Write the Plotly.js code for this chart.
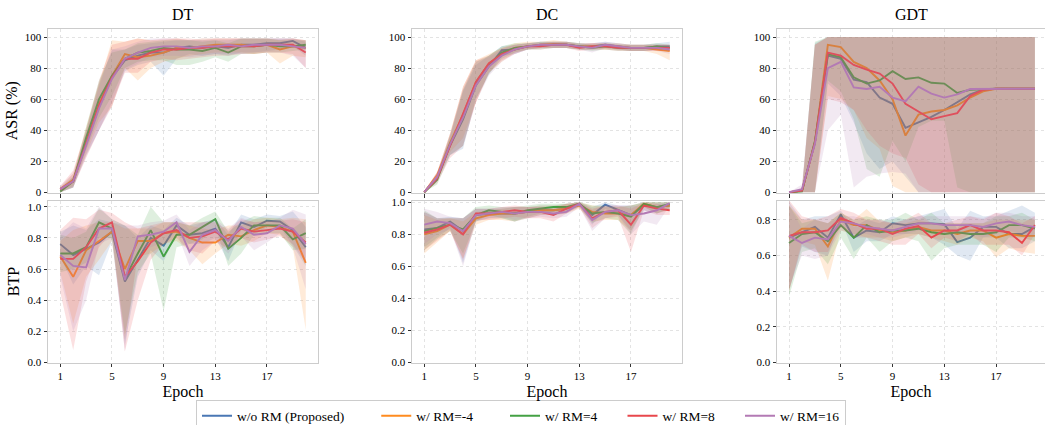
<!DOCTYPE html>
<html><head><meta charset="utf-8">
<script src="https://cdn.plot.ly/plotly-3.0.1.min.js"></script>
<style>html,body{margin:0;padding:0;background:#fff}#chart{width:1045px;height:425px}</style>
</head><body><div id="chart"></div>
<script>
// ---------------- data ----------------
const epochs = [1,2,3,4,5,6,7,8,9,10,11,12,13,14,15,16,17,18,19,20];
const seriesNames = ['w/o RM (Proposed)', 'w/ RM=-4', 'w/ RM=4', 'w/ RM=8', 'w/ RM=16'];
const xTickVals = [1, 5, 9, 13, 17];
const panelTitles = ['DT', 'DC', 'GDT'];
const rowTitles = ['ASR (%)', 'BTP'];

// DT - ASR (mean, min, max per series)
const dtAsrMean = [
  [2, 7, 32, 55, 74, 85, 88, 90, 90, 93, 94, 93, 94, 93, 95, 95, 96, 96, 97.5, 93],
  [2, 8, 33, 57, 75, 89, 87, 88, 90, 93, 93, 94, 95, 95, 95, 94, 95, 92, 94, 93],
  [0.5, 7, 35, 60, 75, 86, 90, 91, 93, 92, 92, 91, 93, 90, 94, 94, 95, 94, 94, 95],
  [2, 7, 31, 56, 74, 86, 86, 90, 92, 92, 93, 93, 94, 94, 94, 94, 95, 95, 95, 90],
  [2, 7, 30, 54, 73, 86, 90, 93, 94, 94, 93, 94, 94, 95, 94, 95, 95, 95, 94, 93]
];
const dtAsrLo = [
  [0, 3, 24, 40, 58, 78, 82, 84, 75, 86, 89, 88, 89, 88, 90, 90, 91, 92, 94, 88],
  [0, 4, 25, 45, 55, 80, 72, 80, 84, 86, 88, 89, 90, 90, 90, 89, 90, 83, 88, 87],
  [0, 3, 27, 48, 62, 80, 84, 85, 85, 82, 82, 84, 87, 84, 89, 89, 90, 90, 91, 92],
  [0, 3, 22, 40, 56, 77, 77, 84, 86, 85, 86, 87, 88, 88, 89, 89, 90, 90, 89, 80],
  [0, 3, 23, 40, 55, 79, 83, 87, 88, 88, 87, 88, 89, 89, 89, 90, 90, 90, 88, 80]
];
const dtAsrHi = [
  [3, 10, 40, 70, 92, 92, 95, 96, 97, 98, 98, 98, 98, 98, 99, 99, 99, 99, 99, 97],
  [3, 12, 42, 70, 98, 97, 99, 98, 98, 99, 98, 99, 99, 99, 99, 99, 99, 98, 99, 98],
  [2, 10, 42, 72, 90, 92, 96, 97, 98, 98, 98, 97, 98, 96, 99, 99, 99, 98, 98, 98],
  [4, 14, 40, 72, 95, 97, 99, 98, 99, 99, 99, 98, 99, 99, 99, 99, 99, 99, 99, 98],
  [4, 12, 38, 68, 92, 94, 97, 99, 99, 99, 98, 99, 99, 99, 99, 99, 99, 99, 99, 98]
];

// DT - BTP
const dtBtpMean = [
  [0.76, 0.69, 0.73, 0.77, 0.84, 0.52, 0.66, 0.80, 0.75, 0.88, 0.82, 0.83, 0.86, 0.74, 0.90, 0.87, 0.91, 0.905, 0.85, 0.74],
  [0.68, 0.55, 0.72, 0.78, 0.84, 0.60, 0.78, 0.78, 0.83, 0.84, 0.80, 0.77, 0.77, 0.82, 0.81, 0.85, 0.88, 0.87, 0.84, 0.64],
  [0.70, 0.70, 0.74, 0.90, 0.86, 0.54, 0.70, 0.85, 0.68, 0.82, 0.82, 0.87, 0.92, 0.73, 0.80, 0.88, 0.88, 0.88, 0.79, 0.83],
  [0.665, 0.665, 0.74, 0.86, 0.90, 0.55, 0.65, 0.77, 0.83, 0.85, 0.80, 0.81, 0.84, 0.79, 0.86, 0.84, 0.85, 0.86, 0.84, 0.77],
  [0.69, 0.62, 0.61, 0.86, 0.86, 0.53, 0.81, 0.82, 0.84, 0.90, 0.71, 0.82, 0.85, 0.78, 0.87, 0.82, 0.83, 0.88, 0.86, 0.76]
];
const dtBtpLo = [
  [0.68, 0.50, 0.62, 0.56, 0.78, 0.12, 0.55, 0.72, 0.65, 0.83, 0.76, 0.76, 0.80, 0.65, 0.85, 0.82, 0.87, 0.87, 0.75, 0.62],
  [0.58, 0.25, 0.55, 0.66, 0.78, 0.15, 0.68, 0.70, 0.76, 0.78, 0.72, 0.63, 0.70, 0.76, 0.75, 0.78, 0.83, 0.82, 0.74, 0.21],
  [0.58, 0.60, 0.64, 0.80, 0.80, 0.18, 0.58, 0.70, 0.33, 0.74, 0.76, 0.79, 0.87, 0.62, 0.70, 0.82, 0.83, 0.83, 0.72, 0.73],
  [0.45, 0.08, 0.52, 0.74, 0.84, 0.07, 0.40, 0.66, 0.76, 0.80, 0.72, 0.70, 0.78, 0.73, 0.80, 0.77, 0.79, 0.81, 0.76, 0.64],
  [0.55, 0.20, 0.40, 0.76, 0.80, 0.07, 0.72, 0.74, 0.77, 0.84, 0.62, 0.72, 0.78, 0.70, 0.81, 0.72, 0.77, 0.83, 0.74, 0.47]
];
const dtBtpHi = [
  [0.84, 0.88, 0.85, 0.92, 0.90, 0.88, 0.80, 0.88, 0.85, 0.93, 0.88, 0.90, 0.92, 0.82, 0.95, 0.92, 0.95, 0.94, 0.97, 0.87],
  [0.78, 0.85, 0.88, 0.90, 0.90, 0.86, 0.86, 0.86, 0.90, 0.90, 0.88, 0.86, 0.85, 0.88, 0.88, 0.92, 0.93, 0.92, 0.93, 0.92],
  [0.82, 0.80, 0.84, 0.99, 0.92, 0.88, 0.82, 1.00, 0.90, 0.90, 0.88, 0.93, 0.97, 0.84, 0.90, 0.94, 0.93, 0.93, 0.86, 0.92],
  [0.85, 0.93, 0.92, 0.98, 0.96, 0.90, 0.86, 0.88, 0.90, 0.90, 0.90, 0.90, 0.90, 0.85, 0.92, 0.90, 0.91, 0.91, 0.92, 0.90],
  [0.82, 0.90, 0.86, 1.00, 0.92, 0.88, 0.88, 0.90, 0.91, 0.95, 0.85, 0.90, 0.92, 0.86, 0.93, 0.90, 0.90, 0.93, 0.98, 0.95]
];

// DC - ASR
const dcAsrMean = [
  [0, 10, 30, 47, 69, 81, 91.5, 92, 94, 95, 95, 95, 94, 94, 95, 94, 93, 93, 94, 94],
  [0, 11, 32, 50, 71, 83, 89, 93, 94, 95, 95.5, 95, 94, 94, 94, 94, 93, 93, 92, 91],
  [0, 8, 31, 48, 70, 82, 90, 93, 94, 94.5, 95, 95, 94, 93, 94, 93, 93, 93, 94, 93],
  [0, 9, 30, 50, 71, 83, 89, 92, 94, 94, 95, 95, 93, 94, 94, 93, 93, 93, 93, 93],
  [0, 10, 31, 48, 69, 81, 88, 92, 94, 95, 95, 95, 94, 93, 95, 94, 93, 93, 93, 92]
];
const dcAsrLo = [
  [0, 8, 24, 28, 60, 76, 88, 89, 92, 93, 93, 93, 92, 92, 93, 92, 91, 91, 92, 92],
  [0, 8, 26, 35, 58, 77, 84, 90, 92, 93, 93, 93, 92, 92, 92, 92, 91, 91, 89, 85],
  [0, 5, 24, 30, 60, 76, 86, 90, 92, 92, 93, 93, 92, 91, 92, 91, 91, 91, 92, 91],
  [0, 6, 22, 30, 58, 77, 85, 89, 92, 92, 93, 93, 91, 92, 92, 91, 91, 91, 91, 91],
  [0, 7, 24, 30, 58, 75, 84, 89, 92, 93, 93, 93, 92, 90, 93, 92, 91, 91, 91, 89]
];
const dcAsrHi = [
  [0.5, 12, 36, 65, 82, 88, 94, 95, 96, 97, 97, 97, 96, 96, 97, 96, 95, 95, 96, 97],
  [0.5, 13, 38, 68, 85, 89, 93, 96, 97, 97, 98, 97, 96, 96, 96, 96, 95, 95, 95, 95],
  [0.5, 11, 37, 66, 84, 88, 94, 96, 96, 97, 97, 97, 96, 95, 96, 95, 95, 95, 96, 95],
  [0.5, 13, 38, 68, 85, 88, 93, 95, 96, 96, 97, 97, 95, 96, 96, 95, 95, 95, 95, 95],
  [0.5, 13, 37, 66, 84, 87, 92, 95, 96, 97, 97, 97, 96, 96, 97, 96, 95, 95, 95, 95]
];

// DC - BTP
const dcBtpMean = [
  [0.83, 0.84, 0.88, 0.82, 0.92, 0.93, 0.93, 0.93, 0.94, 0.95, 0.95, 0.96, 0.99, 0.92, 0.985, 0.95, 0.92, 0.98, 0.97, 0.98],
  [0.80, 0.82, 0.86, 0.80, 0.90, 0.92, 0.93, 0.93, 0.94, 0.95, 0.95, 0.96, 0.98, 0.94, 0.93, 0.93, 0.92, 0.99, 0.97, 0.98],
  [0.82, 0.84, 0.86, 0.83, 0.92, 0.95, 0.94, 0.93, 0.95, 0.96, 0.97, 0.97, 0.99, 0.93, 0.94, 0.93, 0.91, 0.99, 0.97, 0.99],
  [0.81, 0.83, 0.86, 0.80, 0.93, 0.93, 0.94, 0.95, 0.94, 0.94, 0.92, 0.96, 0.99, 0.90, 0.94, 0.95, 0.86, 0.98, 0.96, 0.95],
  [0.86, 0.88, 0.87, 0.82, 0.92, 0.93, 0.94, 0.93, 0.94, 0.94, 0.93, 0.94, 0.99, 0.89, 0.94, 0.95, 0.92, 0.93, 0.95, 0.995]
];
const dcBtpLo = [
  [0.72, 0.78, 0.84, 0.62, 0.88, 0.90, 0.90, 0.88, 0.90, 0.92, 0.92, 0.93, 0.98, 0.86, 0.96, 0.92, 0.82, 0.95, 0.93, 0.96],
  [0.68, 0.75, 0.82, 0.65, 0.86, 0.89, 0.89, 0.88, 0.90, 0.92, 0.92, 0.93, 0.96, 0.88, 0.89, 0.89, 0.82, 0.97, 0.93, 0.95],
  [0.70, 0.77, 0.82, 0.68, 0.88, 0.92, 0.90, 0.88, 0.91, 0.93, 0.94, 0.94, 0.97, 0.87, 0.90, 0.89, 0.80, 0.97, 0.93, 0.96],
  [0.70, 0.76, 0.82, 0.64, 0.89, 0.89, 0.90, 0.91, 0.90, 0.90, 0.88, 0.93, 0.97, 0.84, 0.90, 0.91, 0.69, 0.95, 0.92, 0.92],
  [0.74, 0.80, 0.83, 0.60, 0.88, 0.90, 0.91, 0.89, 0.90, 0.91, 0.90, 0.91, 0.97, 0.82, 0.90, 0.92, 0.80, 0.88, 0.86, 0.98]
];
const dcBtpHi = [
  [0.94, 0.90, 0.91, 0.90, 0.96, 0.96, 0.96, 0.97, 0.97, 0.98, 0.98, 0.99, 1.00, 0.97, 1.00, 0.98, 0.98, 1.00, 1.00, 1.00],
  [0.92, 0.89, 0.90, 0.88, 0.94, 0.95, 0.96, 0.97, 0.97, 0.98, 0.98, 0.99, 1.00, 0.98, 0.97, 0.97, 0.98, 1.00, 1.00, 1.00],
  [0.95, 0.90, 0.90, 0.90, 0.97, 0.98, 0.97, 0.97, 0.98, 0.99, 0.99, 0.99, 1.00, 0.98, 0.98, 0.97, 0.98, 1.00, 1.00, 1.00],
  [0.94, 0.90, 0.90, 0.90, 0.96, 0.96, 0.97, 0.98, 0.97, 0.97, 0.96, 0.99, 1.00, 0.96, 0.98, 0.98, 0.96, 1.00, 0.99, 0.98],
  [0.96, 0.94, 0.91, 0.90, 0.96, 0.96, 0.97, 0.97, 0.97, 0.97, 0.96, 0.97, 1.00, 0.95, 0.98, 0.98, 0.98, 0.97, 0.99, 1.00]
];

// GDT - ASR
const gdtAsrMean = [
  [0, 1, 32, 88, 86, 72.5, 71, 61, 57, 41.5, 45, 48.5, 53, 58, 63, 66, 66.7, 66.7, 66.7, 66.7],
  [0, 1, 32, 95, 93.5, 84, 80, 72, 60, 36.5, 50, 52, 53, 56, 61, 65, 66.7, 66.7, 66.7, 66.7],
  [0, 0.5, 33, 89, 87, 74, 70, 72, 78, 73, 74, 70.5, 70, 64, 66, 66.5, 66.7, 66.7, 66.7, 66.7],
  [0, 1, 32, 90, 88, 82, 79, 76.5, 70, 57, 52, 47, 49, 51, 62, 66, 66.7, 66.7, 66.7, 66.7],
  [0, 2, 31, 80, 84, 67.5, 66.5, 68, 61, 58.5, 68, 63.5, 61, 63, 66.5, 66.5, 66.7, 66.7, 66.7, 66.7]
];
const gdtAsrLo = [
  [0, 0, 0, 70, 62, 45, 25, 15, 20, 10, 0, 0, 0, 0, 0, 0, 0, 0, 0, 0],
  [0, 0, 0, 62, 60, 53, 35, 28, 4, 0, 0, 0, 0, 0, 0, 0, 0, 0, 0, 0],
  [0, 0, 0, 72, 65, 47, 15, 10, 33, 20, 42, 46, 46, 3, 0, 0, 0, 0, 0, 0],
  [0, 0, 0, 60, 58, 53, 40, 30, 25, 22, 5, 0, 0, 0, 0, 0, 0, 0, 0, 0],
  [0, 0, 0, 40, 50, 3, 10, 12, 13, 12, 0, 0, 0, 0, 0, 0, 0, 0, 0, 0]
];
const gdtAsrHi = [
  [0, 2, 96, 100, 100, 100, 100, 100, 100, 100, 100, 100, 100, 100, 100, 100, 100, 100, 100, 100],
  [0, 2, 95, 100, 100, 100, 100, 100, 100, 100, 100, 100, 100, 100, 100, 100, 100, 100, 100, 100],
  [0, 1, 97, 100, 100, 100, 100, 100, 100, 100, 100, 100, 100, 100, 100, 100, 100, 100, 100, 100],
  [0, 2, 95, 100, 100, 100, 100, 100, 100, 100, 100, 100, 100, 100, 100, 100, 100, 100, 100, 100],
  [0, 5, 95, 100, 100, 100, 100, 100, 100, 100, 100, 100, 100, 100, 100, 100, 100, 100, 100, 100]
];

// GDT - BTP
const gdtBtpMean = [
  [0.70, 0.73, 0.76, 0.70, 0.83, 0.70, 0.74, 0.73, 0.78, 0.77, 0.78, 0.78, 0.775, 0.675, 0.70, 0.76, 0.76, 0.72, 0.72, 0.76],
  [0.70, 0.75, 0.75, 0.65, 0.80, 0.77, 0.77, 0.74, 0.73, 0.74, 0.76, 0.74, 0.74, 0.72, 0.74, 0.74, 0.70, 0.72, 0.71, 0.71],
  [0.67, 0.72, 0.73, 0.68, 0.77, 0.70, 0.77, 0.73, 0.74, 0.74, 0.75, 0.73, 0.72, 0.73, 0.72, 0.72, 0.73, 0.77, 0.77, 0.75],
  [0.71, 0.73, 0.73, 0.74, 0.81, 0.78, 0.75, 0.75, 0.72, 0.75, 0.765, 0.70, 0.74, 0.74, 0.77, 0.74, 0.74, 0.73, 0.67, 0.77],
  [0.71, 0.67, 0.70, 0.69, 0.79, 0.78, 0.76, 0.75, 0.74, 0.76, 0.78, 0.78, 0.77, 0.77, 0.77, 0.76, 0.78, 0.79, 0.77, 0.76]
];
const gdtBtpLo = [
  [0.40, 0.65, 0.62, 0.60, 0.80, 0.62, 0.68, 0.68, 0.72, 0.72, 0.72, 0.70, 0.66, 0.60, 0.57, 0.70, 0.70, 0.64, 0.64, 0.68],
  [0.40, 0.68, 0.66, 0.46, 0.74, 0.72, 0.70, 0.70, 0.68, 0.70, 0.72, 0.70, 0.68, 0.66, 0.70, 0.68, 0.59, 0.64, 0.62, 0.61],
  [0.37, 0.62, 0.64, 0.55, 0.70, 0.58, 0.70, 0.62, 0.68, 0.70, 0.68, 0.57, 0.64, 0.66, 0.66, 0.66, 0.62, 0.70, 0.70, 0.68],
  [0.40, 0.66, 0.62, 0.62, 0.76, 0.70, 0.70, 0.68, 0.66, 0.66, 0.72, 0.64, 0.70, 0.68, 0.72, 0.66, 0.66, 0.66, 0.60, 0.72],
  [0.42, 0.60, 0.58, 0.60, 0.74, 0.72, 0.72, 0.70, 0.70, 0.72, 0.74, 0.74, 0.72, 0.72, 0.72, 0.70, 0.72, 0.74, 0.72, 0.70]
];
const gdtBtpHi = [
  [0.90, 0.80, 0.82, 0.82, 0.85, 0.76, 0.80, 0.78, 0.82, 0.80, 0.82, 0.84, 0.86, 0.75, 0.85, 0.82, 0.82, 0.85, 0.88, 0.84],
  [0.88, 0.80, 0.80, 0.78, 0.84, 0.80, 0.86, 0.79, 0.78, 0.78, 0.80, 0.78, 0.78, 0.78, 0.78, 0.78, 0.80, 0.80, 0.80, 0.80],
  [0.88, 0.78, 0.80, 0.78, 0.84, 0.80, 0.82, 0.80, 0.80, 0.84, 0.80, 0.84, 0.78, 0.78, 0.78, 0.78, 0.82, 0.82, 0.84, 0.80],
  [0.91, 0.82, 0.80, 0.82, 0.86, 0.84, 0.80, 0.80, 0.78, 0.80, 0.84, 0.78, 0.78, 0.80, 0.82, 0.80, 0.84, 0.82, 0.78, 0.82],
  [0.88, 0.75, 0.80, 0.78, 0.82, 0.82, 0.80, 0.80, 0.78, 0.80, 0.82, 0.82, 0.82, 0.82, 0.82, 0.81, 0.84, 0.84, 0.82, 0.82]
];

// ---------------- style ----------------
const W = 1045, H = 425;
const FONT = "'Liberation Serif', 'Times New Roman', serif";
const colors = ['#4a77b4', '#ff8b1f', '#44a144', '#e8474c', '#b37ab4'];
const bandAlpha = 0.17;
const NB = '\u00a0';
const legendPad = [NB.repeat(8), NB.repeat(8), NB.repeat(6), NB.repeat(6), ''];
function rgba(hex, a) {
  const n = parseInt(hex.slice(1), 16);
  return 'rgba(' + ((n >> 16) & 255) + ',' + ((n >> 8) & 255) + ',' + (n & 255) + ',' + a + ')';
}
const colPx = [[48, 318], [412, 682], [777, 1045]];
const colRange = [[0.05, 20.95], [0.05, 20.95], [0.07, 20.78]];
const rowPx = [[28.5, 193], [200.5, 362.5]];
const panels = [
  {mean: dtAsrMean, lo: dtAsrLo, hi: dtAsrHi, row: 0, col: 0, yr: [-0.5, 105.5]},
  {mean: dcAsrMean, lo: dcAsrLo, hi: dcAsrHi, row: 0, col: 1, yr: [-0.5, 105.5]},
  {mean: gdtAsrMean, lo: gdtAsrLo, hi: gdtAsrHi, row: 0, col: 2, yr: [-0.5, 105.5]},
  {mean: dtBtpMean, lo: dtBtpLo, hi: dtBtpHi, row: 1, col: 0, yr: [0, 1.04]},
  {mean: dcBtpMean, lo: dcBtpLo, hi: dcBtpHi, row: 1, col: 1, yr: [0, 1.011]},
  {mean: gdtBtpMean, lo: gdtBtpLo, hi: gdtBtpHi, row: 1, col: 2, yr: [0, 0.908]}
];

const traces = [];
const layout = {
  width: W, height: H,
  margin: {l: 0, r: 0, t: 0, b: 0, pad: 0, autoexpand: false},
  paper_bgcolor: '#ffffff', plot_bgcolor: '#ffffff',
  font: {family: FONT, color: '#000000', size: 11},
  showlegend: true,
  legend: {
    orientation: 'h', x: 196 / W, xanchor: 'left', y: (H - 399.5) / H, yanchor: 'top',
    bordercolor: '#cccccc', borderwidth: 1, bgcolor: '#ffffff',
    font: {family: FONT, size: 13.5, color: '#000000'}, tracegroupgap: 0
  },
  annotations: [],
  hovermode: false
};

panels.forEach((p, i) => {
  const n = i + 1;
  const xa = 'x' + n, ya = 'y' + n;
  for (let s = 0; s < seriesNames.length; s++) {
    traces.push({
      x: epochs.concat(epochs.slice().reverse()),
      y: p.hi[s].concat(p.lo[s].slice().reverse()),
      xaxis: xa, yaxis: ya, type: 'scatter', mode: 'lines',
      fill: 'toself', fillcolor: rgba(colors[s], bandAlpha),
      line: {width: 0, color: 'rgba(0,0,0,0)'}, hoverinfo: 'skip', showlegend: false
    });
    traces.push({
      x: epochs, y: p.mean[s], xaxis: xa, yaxis: ya, type: 'scatter', mode: 'lines',
      name: seriesNames[s] + legendPad[s],
      line: {color: colors[s], width: 1.9},
      showlegend: i === 0
    });
  }
  const cx = colPx[p.col], ry = rowPx[p.row];
  const common = {
    showline: true, mirror: true, linecolor: '#cccccc', linewidth: 1,
    ticks: 'outside', ticklen: 3.5, tickwidth: 1, tickcolor: '#333333',
    showgrid: true, gridcolor: '#dcdcdc', griddash: 'dot', gridwidth: 0.8,
    zeroline: false, tickfont: {family: FONT, size: 11, color: '#000000'}, fixedrange: true,
    automargin: false
  };
  layout['xaxis' + (n === 1 ? '' : n)] = Object.assign({}, common, {
    domain: [cx[0] / W, cx[1] / W], range: colRange[p.col], anchor: ya,
    tickmode: 'array', tickvals: xTickVals, ticktext: xTickVals.map(String),
    showticklabels: p.row === 1,
    title: p.row === 1 ? {text: 'Epoch', font: {family: FONT, size: 16}, standoff: 4} : {text: ''}
  });
  const yExtra = p.row === 0
    ? {tickmode: 'array', tickvals: [0, 20, 40, 60, 80, 100], ticktext: ['0', '20', '40', '60', '80', '100']}
    : {tickmode: 'linear', tick0: 0, dtick: 0.2, tickformat: '.1f'};
  layout['yaxis' + (n === 1 ? '' : n)] = Object.assign({}, common, yExtra, {
    domain: [(H - ry[1]) / H, (H - ry[0]) / H], range: p.yr, anchor: xa,
    title: p.col === 0 ? {text: rowTitles[p.row], font: {family: FONT, size: 16}, standoff: 3} : {text: ''}
  });
});

panelTitles.forEach((t, c) => {
  layout.annotations.push({
    text: t, xref: 'paper', yref: 'paper',
    x: (colPx[c][0] + colPx[c][1]) / 2 / W, y: (H - 14) / H,
    xanchor: 'center', yanchor: 'middle', showarrow: false,
    font: {family: FONT, size: 16, color: '#000000'}
  });
});

Plotly.newPlot('chart', traces, layout, {staticPlot: true, displayModeBar: false});
</script>
</body></html>
